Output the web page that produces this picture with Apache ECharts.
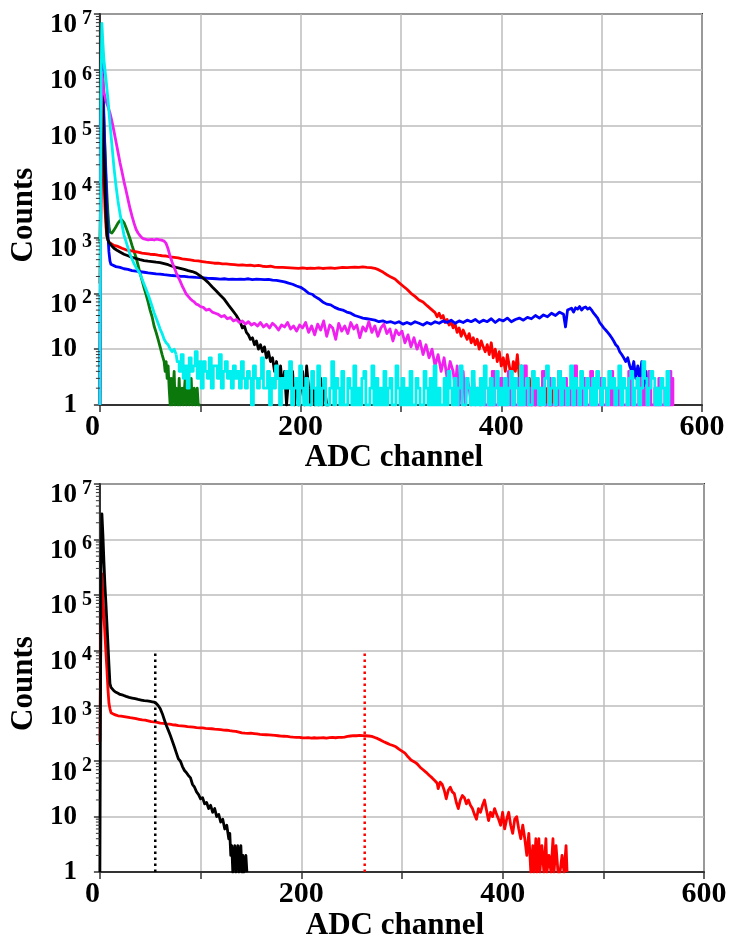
<!DOCTYPE html>
<html>
<head>
<meta charset="utf-8">
<title>ADC spectra</title>
<script src="https://cdn.jsdelivr.net/npm/echarts@6/dist/echarts.min.js"></script>
<style>
  html, body { margin: 0; padding: 0; background: #ffffff; }
  #chart { width: 731px; height: 942px; }
</style>
</head>
<body>
<div id="chart"></div>
<script>
// ---------- Upper panel: six spectra, [ADC channel, counts] ----------
const topGreen = [[0,800],[1,9000],[2,400000],[3,800000],[4,150000],[5,40000],[6,15000],[7,6000],[8,2800],[9,1600],[10,1250],[12,1200],[14,1350],[16,1550],[18,1800],[20,2000],[22,2050],[24,1850],[26,1500],[28,1200],[30,950],[32,720],[34,560],[36,440],[38,320],[40,230],[42,170],[44,125],[46,95],[48,70],[50,50],[52,38],[54,26],[56,20],[58,15],[60,11],[62,8],[64,6],[65,4],[66,6],[67,3],[68,5],[69,2],[70,1],[71,3],[72,1],[74,4],[75,1],[76,2],[78,1],[79,3],[80,1],[82,2],[83,1],[85,3],[86,1],[88,2],[89,1],[91,3],[92,1],[94,2],[95,1],[97,2],[98,1],[100,1]];

const topRed = [[0,150],[1,3000],[2,250000],[3,60000],[4,12000],[5,3500],[6,1600],[7,1050],[8,900],[9,820],[10,780],[14,720],[18,690],[22,640],[26,600],[30,580],[34,560],[38,545],[42,525],[46,515],[50,500],[54,495],[58,480],[62,470],[66,465],[70,450],[74,440],[78,430],[82,415],[86,405],[90,395],[94,385],[98,380],[102,370],[106,360],[110,355],[114,345],[118,345],[122,335],[126,335],[130,330],[134,325],[138,320],[142,322],[146,315],[150,318],[154,310],[158,315],[162,305],[166,300],[170,305],[174,295],[178,292],[182,290],[186,288],[190,285],[194,282],[198,280],[202,285],[206,278],[210,282],[214,280],[218,285],[222,278],[226,282],[230,285],[234,280],[238,285],[242,290],[246,288],[250,292],[254,295],[258,290],[262,298],[266,292],[270,288],[274,280],[278,262],[282,240],[286,215],[290,195],[294,180],[298,155],[302,135],[306,118],[310,100],[314,88],[318,76],[322,70],[326,60],[330,52],[334,45],[336,38],[338,44],[340,36],[342,40],[344,30],[346,34],[348,27],[350,31],[352,24],[354,28],[356,20],[358,24],[360,17],[362,22],[364,18],[366,15],[368,19],[370,13],[372,16],[374,12],[376,15],[378,10],[380,14],[382,11],[384,9],[386,12],[388,8],[390,13],[392,7],[394,10],[396,6],[398,9],[400,5],[402,7],[404,4],[406,8],[408,5],[410,3],[412,6],[414,4],[416,8],[418,3],[420,5],[422,2],[424,4],[426,1],[428,3],[430,1],[432,2],[434,1],[436,3],[438,1],[440,1],[442,3],[444,1],[446,2],[448,1],[450,1],[452,2],[454,1],[456,1]];

const topBlue = [[0,1],[1,80000],[2,1400000],[3,400000],[4,120000],[5,35000],[6,10000],[7,3000],[8,1100],[9,550],[10,380],[11,330],[12,310],[16,300],[20,290],[24,275],[28,268],[32,255],[36,250],[40,245],[44,238],[48,232],[52,228],[56,222],[60,220],[64,215],[68,212],[72,208],[76,205],[80,202],[84,200],[88,196],[92,195],[96,192],[100,190],[104,188],[108,185],[112,184],[116,182],[120,180],[124,182],[128,178],[132,180],[136,177],[140,180],[144,178],[148,182],[152,176],[156,180],[160,178],[164,175],[168,178],[172,172],[176,170],[180,165],[184,160],[188,152],[192,145],[196,135],[200,128],[204,115],[208,100],[212,95],[214,88],[218,80],[222,70],[226,64],[230,62],[234,56],[238,52],[242,50],[246,46],[250,44],[254,40],[258,38],[262,36],[266,35],[270,34],[274,33],[278,31],[282,32],[286,30],[290,31],[294,29],[298,31],[302,28],[306,30],[310,28],[314,31],[318,29],[322,27],[326,30],[330,28],[334,31],[338,29],[342,32],[346,30],[350,33],[354,29],[358,32],[362,30],[366,33],[370,31],[374,34],[378,30],[382,33],[386,31],[390,35],[394,30],[398,34],[402,32],[406,36],[410,31],[414,34],[418,36],[422,33],[426,37],[430,35],[434,40],[438,36],[442,41],[446,38],[450,44],[454,40],[458,46],[462,42],[464,25],[466,50],[470,54],[472,46],[474,55],[476,52],[478,58],[480,50],[482,55],[484,57],[486,52],[488,55],[490,50],[492,44],[494,40],[496,36],[498,30],[500,27],[502,24],[504,22],[506,20],[508,18],[510,16],[512,14],[514,12],[516,11],[518,9],[520,8],[522,7],[524,6],[526,7],[528,5],[530,4],[532,6],[534,3],[536,5],[538,3],[540,6],[542,2],[544,4],[546,2],[548,3]];

const topBlack = [[0,1],[1,20000],[2,500000],[3,120000],[4,30000],[5,8000],[6,2500],[7,1100],[8,900],[9,820],[10,780],[12,700],[14,640],[17,590],[20,550],[24,500],[28,470],[32,440],[36,420],[40,400],[44,385],[48,375],[52,370],[56,360],[60,355],[64,340],[68,325],[72,305],[76,290],[80,280],[84,268],[88,255],[92,245],[96,230],[100,205],[104,180],[108,155],[112,130],[116,110],[120,92],[124,78],[128,62],[132,50],[136,40],[140,30],[142,24],[144,26],[146,20],[148,18],[150,15],[152,16],[154,12],[156,14],[158,10],[160,12],[162,9],[164,11],[166,7],[168,9],[170,6],[172,7],[174,4],[176,6],[178,3],[180,5],[182,2],[184,4],[186,1],[188,3],[190,2],[192,4],[194,1],[196,3],[198,1],[200,2],[202,4],[204,1],[206,5],[208,2],[210,1],[212,3],[214,1],[216,2],[218,1],[220,3],[222,1],[224,2],[226,1],[228,1]];

const topMagenta = [[0,1],[1,60000],[2,900000],[3,600000],[4,400000],[6,280000],[8,220000],[10,170000],[12,120000],[14,80000],[16,52000],[18,34000],[20,22000],[22,15000],[24,10000],[26,7000],[28,4800],[30,3300],[32,2400],[34,1800],[36,1400],[38,1200],[40,1080],[42,980],[44,940],[46,920],[48,900],[50,910],[52,920],[54,900],[56,930],[58,920],[60,900],[62,890],[64,860],[66,780],[68,620],[70,460],[72,360],[74,290],[76,235],[78,195],[80,165],[82,135],[84,115],[86,97],[88,88],[90,80],[92,74],[94,70],[96,64],[98,62],[100,58],[103,56],[106,50],[109,52],[112,46],[115,44],[118,42],[121,38],[124,40],[127,35],[130,37],[133,32],[136,34],[139,30],[142,32],[145,28],[148,31],[151,27],[154,29],[157,26],[160,30],[163,25],[166,28],[169,24],[172,29],[175,26],[178,22],[181,27],[184,25],[187,30],[190,23],[193,26],[196,21],[199,27],[202,24],[205,30],[208,20],[211,26],[214,18],[217,28],[220,22],[223,32],[226,17],[229,27],[232,24],[235,15],[238,29],[241,21],[244,26],[247,19],[250,30],[253,23],[256,27],[259,16],[262,25],[265,21],[268,31],[271,20],[274,26],[277,17],[280,24],[283,28],[286,19],[289,23],[292,14],[295,22],[298,18],[301,21],[304,13],[307,18],[310,11],[313,16],[316,10],[319,14],[322,8],[325,12],[328,7],[331,10],[334,5],[337,8],[340,4],[343,7],[346,3],[349,6],[352,4],[354,2],[356,5],[358,1],[360,3],[362,4],[364,1],[366,3],[368,2],[370,1],[372,4],[374,1],[376,2],[378,1]];
// sparse counts past channel 380, every second channel (drawn as a histogram)
const topMagentaTailStart = 380;
const topMagentaTail = [1,3,1,1,2,1,4,1,1,2,3,1,1,1,4,1,2,1,1,3,1,1,5,1,2,1,1,3,1,1,2,4,1,1,3,1,1,2,1,4,1,1,3,1,2,1,
  1,5,1,1,2,1,3,1,1,4,1,2,1,1,3,1,1,2,1,4,1,1,2,1,3,1,1,1,4,1,2,1,1,3,1,2,1,1,4,1,1,2,1,3,1,1,2,1,4,1,3];

const topCyan = [[0,1],[1,300000],[2,6800000],[3,3000000],[4,1500000],[6,700000],[8,300000],[10,110000],[12,45000],[14,18000],[16,8500],[18,4500],[20,2700],[22,1700],[24,1100],[26,850],[28,650],[30,500],[32,410],[34,340],[36,290],[38,255],[40,225],[42,180],[44,145],[46,118],[48,95],[50,75],[52,58],[54,45],[56,36],[58,29],[60,23],[62,19],[64,15],[66,13],[68,12],[70,10],[72,9],[74,10],[76,8]];
// sparse counts past channel 78, every second channel (drawn as a histogram)
const topCyanTailStart = 78;
const topCyanTail = [6,4,8,3,5,2,7,4,5,9,3,6,2,6,4,3,7,2,5,5,3,8,2,4,6,3,4,
  2,5,3,4,2,6,3,2,4,3,1,5,3,2,3,7,2,2,4,1,3,2,5,3,1,3,2,4,2,6,1,2,3,1,5,
  2,1,3,1,1,4,2,1,5,1,2,3,1,1,2,6,1,3,2,1,4,1,1,3,2,1,5,1,2,1,3,4,1,1,2,5,1,3,1,2,1,4,1,2,3,1,1,5,2,1,
  3,1,2,1,4,1,1,3,2,1,1,4,2,1,3,1,5,1,2,1,1,3,1,4,2,1,3,1,2,5,1,1,3,2,1,4,1,2,1,3,1,5,2,1,3,1,2,4,1,2,
  1,3,1,2,4,1,3,2,1,5,1,2,3,1,1,4,2,3,1,2,1,3,5,1,2,3,1,2,4,1,3,2,1,2,5,1,3,2,1,4,2,1,3,2,1,3,1,4,2,1,
  3,2,1,4,2,3,1,2,5,1,3,2,1,3,4,1,2,3,1,2,6,3,1,2,4,3,1,2,1,3,2,1,4,1];

// ---------- Lower panel: two spectra and their marker channels ----------
const bottomBlack = [[0,1],[1,200000],[2,2900000],[3,1200000],[4,400000],[5,150000],[6,70000],[7,30000],[8,13000],[9,5500],[10,2500],[11,2150],[12,2000],[14,1850],[16,1750],[18,1680],[20,1600],[23,1550],[26,1480],[29,1420],[32,1380],[35,1340],[38,1300],[41,1270],[44,1240],[47,1220],[50,1200],[52,1180],[54,1160],[56,1100],[58,1000],[60,880],[62,720],[64,560],[66,440],[68,360],[70,290],[72,230],[74,180],[76,140],[78,110],[80,100],[82,80],[84,68],[86,62],[88,55],[90,50],[92,38],[94,34],[96,28],[98,25],[100,21],[102,22],[104,17],[106,18],[108,14],[110,16],[112,12],[114,14],[116,10],[118,11],[120,8],[122,9],[124,6],[126,7],[128,4],[129,5],[130,2],[131,3],[132,1],[133,2],[134,3],[135,1],[136,2],[137,3],[138,1],[140,3],[141,1],[142,2],[143,1],[145,2],[146,1]];

const bottomRed = [[0,225],[1,20000],[2,240000],[3,90000],[4,40000],[5,20000],[6,9000],[7,4500],[8,2000],[9,1100],[10,880],[11,750],[12,720],[14,700],[16,680],[18,660],[21,650],[24,640],[27,625],[30,610],[33,600],[36,585],[39,570],[42,555],[45,550],[48,535],[51,520],[54,510],[57,500],[60,485],[63,480],[66,470],[69,465],[72,455],[75,450],[78,440],[81,435],[84,430],[87,420],[90,418],[93,412],[96,405],[99,400],[102,398],[105,392],[108,388],[111,385],[114,378],[117,375],[120,370],[123,365],[126,362],[129,355],[132,350],[135,345],[138,335],[141,325],[144,320],[147,318],[150,320],[153,315],[156,310],[159,305],[162,302],[165,300],[168,298],[171,295],[174,292],[177,288],[180,284],[183,282],[186,280],[189,275],[192,272],[195,270],[198,268],[201,265],[204,264],[207,266],[210,262],[213,265],[216,262],[219,263],[222,265],[225,262],[228,266],[231,268],[234,265],[237,270],[240,268],[243,272],[246,280],[249,285],[252,290],[255,288],[258,292],[261,290],[264,288],[267,285],[270,280],[273,268],[276,255],[279,240],[282,225],[285,212],[288,200],[291,192],[294,182],[297,165],[300,152],[303,140],[306,120],[309,105],[312,98],[315,90],[318,78],[321,70],[324,63],[327,56],[330,50],[333,44],[335,40],[336,32],[338,42],[340,38],[342,30],[344,21],[346,30],[348,34],[350,28],[352,26],[354,18],[356,14],[358,20],[360,24],[362,22],[364,17],[366,20],[368,16],[370,14],[372,11],[374,9],[376,14],[378,12],[380,16],[382,20],[384,13],[386,8.5],[388,12],[390,10],[392,14],[394,11],[396,9],[398,7],[400,12],[402,6],[404,9],[406,12],[408,7],[410,5],[412,9],[414,10],[416,6],[418,4],[420,7],[422,4],[424,2],[426,5],[428,1],[430,3],[431,1],[433,4],[434,1],[436,4],[437,1],[439,3],[441,1],[443,4],[444,1],[446,2],[448,1],[450,4],[451,1],[453,3],[455,1],[457,1],[459,2],[461,1],[463,3],[464,1]];

const markerBlackChannel = 55;
const markerRedChannel = 263;
const markerTop = 10000;

// ---------- Axis settings ----------
const xTickLabels = ['0', '200', '400', '600'];
const yDecades = [1, 10, 100, 1000, 10000, 100000, 1000000, 10000000];
const yExponents = ['', '', '2', '3', '4', '5', '6', '7'];

// sparse tails continue from the last point of the main curve
function tailData(head, start, tail) {
  return [head[head.length - 1]].concat(tail.map((c, i) => [start + 2 * i, c]));
}

// minor log ticks between decades (2..9 of each decade)
const minorTickValues = [];
for (let d = 0; d < yDecades.length - 1; d++) {
  for (let k = 2; k <= 9; k++) minorTickValues.push([0, k * yDecades[d]]);
}

const SERIF = '"Liberation Serif", "Times New Roman", Times, serif';
const FRAME = '#333333';
const GRIDLINE = '#bdbdbd';

function decadeIndex(v) {
  return yDecades.findIndex(d => Math.abs(d - v) / d < 1e-6);
}

function xAxis(gridIndex) {
  return {
    type: 'value', gridIndex, min: 0, max: 600, interval: 100,
    name: 'ADC channel', nameLocation: 'middle', nameGap: 36,
    nameTextStyle: { fontFamily: SERIF, fontWeight: 'bold', fontSize: 31, color: '#000', padding: [0, 14, 0, 0] },
    axisLine: { show: true, onZero: false, lineStyle: { color: FRAME, width: 2 } },
    axisTick: { show: true, inside: false, length: 7, lineStyle: { color: FRAME, width: 1.5 } },
    axisLabel: {
      fontFamily: SERIF, fontWeight: 'bold', fontSize: 30, color: '#000', margin: 7,
      alignMinLabel: 'right', showMinLabel: true, showMaxLabel: true,
      formatter: v => xTickLabels.includes(String(v)) ? String(v) : ''
    },
    splitLine: { show: true, lineStyle: { color: GRIDLINE, width: 1.5 } }
  };
}

const logRange = { type: 'log', logBase: 10, min: 1, max: 10000000 };

// main y axis: line, ticks, grid, the plain labels "1" and "10" and the title
function yAxisMain(gridIndex) {
  return Object.assign({}, logRange, {
    gridIndex,
    name: 'Counts', nameLocation: 'middle', nameGap: 55,
    nameTextStyle: { fontFamily: SERIF, fontWeight: 'bold', fontSize: 31, color: '#000', padding: [0, 11, 0, 0] },
    axisLine: { show: true, lineStyle: { color: FRAME, width: 2 } },
    axisTick: { show: true, inside: false, length: 6, lineStyle: { color: FRAME, width: 1.5 } },
    axisLabel: {
      margin: 23, showMinLabel: true, showMaxLabel: true,
      fontFamily: SERIF, fontWeight: 'bold', fontSize: 27, color: '#000',
      formatter: v => { const i = decadeIndex(v); return i === 0 || i === 1 ? String(yDecades[i]) : ''; }
    },
    splitLine: { show: true, lineStyle: { color: GRIDLINE, width: 1.5 } }
  });
}

// label-only overlay axes: the base "10" of each power, and its exponent
function yAxisPowerPart(gridIndex, part) {
  const isBase = part === 'base';
  return Object.assign({}, logRange, {
    gridIndex, position: 'left', offset: 0,
    axisLine: { show: false }, axisTick: { show: false }, splitLine: { show: false },
    axisLabel: {
      showMinLabel: true, showMaxLabel: true,
      margin: isBase ? 23 : 8,
      fontFamily: SERIF, fontWeight: 'bold', color: '#000',
      fontSize: isBase ? 27 : 20,
      lineHeight: isBase ? 23 : 9,
      verticalAlign: 'top',
      formatter: v => { const i = decadeIndex(v); return i >= 2 ? (isBase ? '10' : yExponents[i]) : ''; }
    }
  });
}

function spectrum(data, color, gridIndex, step) {
  return {
    type: 'line', data, xAxisIndex: gridIndex, yAxisIndex: gridIndex * 3,
    showSymbol: false, symbol: 'none', clip: true, step: step || false,
    lineStyle: { color, width: 2.8, join: 'round' }, z: 3
  };
}

function marker(channel, color) {
  return {
    type: 'line', data: [[channel, 1], [channel, markerTop]], xAxisIndex: 1, yAxisIndex: 3,
    showSymbol: false, symbol: 'none',
    lineStyle: { color, width: 2.5, type: [2.5, 3.5] }, z: 4
  };
}

function minorTicks(gridIndex) {
  return {
    type: 'custom', xAxisIndex: gridIndex, yAxisIndex: gridIndex * 3, data: minorTickValues,
    clip: false, silent: true, z: 5,
    renderItem: (params, api) => {
      const p = api.coord([0, api.value(1)]);
      return { type: 'line', shape: { x1: p[0] - 4, y1: p[1], x2: p[0], y2: p[1] },
               style: { stroke: FRAME, lineWidth: 1 } };
    }
  };
}

const chart = echarts.init(document.getElementById('chart'), null, { renderer: 'canvas' });
chart.setOption({
  animation: false,
  backgroundColor: '#ffffff',
  grid: [
    { left: 97, top: 14, width: 605, height: 391, show: true, borderColor: FRAME, borderWidth: 2, backgroundColor: 'transparent' },
    { left: 97, top: 484, width: 607, height: 393, show: true, borderColor: FRAME, borderWidth: 2, backgroundColor: 'transparent' }
  ],
  xAxis: [xAxis(0), xAxis(1)],
  yAxis: [
    yAxisMain(0), yAxisPowerPart(0, 'base'), yAxisPowerPart(0, 'exp'),
    yAxisMain(1), yAxisPowerPart(1, 'base'), yAxisPowerPart(1, 'exp')
  ],
  series: [
    spectrum(topGreen, '#0b780b', 0),
    spectrum(topRed, '#ff0000', 0),
    spectrum(topBlue, '#0000ff', 0),
    spectrum(topBlack, '#000000', 0),
    spectrum(topMagenta, '#f020f0', 0),
    spectrum(tailData(topMagenta, topMagentaTailStart, topMagentaTail), '#f020f0', 0, 'middle'),
    spectrum(topCyan, '#00f0f0', 0),
    spectrum(tailData(topCyan, topCyanTailStart, topCyanTail), '#00f0f0', 0, 'middle'),
    minorTicks(0),
    spectrum(bottomRed, '#ff0000', 1),
    spectrum(bottomBlack, '#000000', 1),
    marker(markerBlackChannel, '#000000'),
    marker(markerRedChannel, '#ff0000'),
    minorTicks(1)
  ]
});
</script>
</body>
</html>
